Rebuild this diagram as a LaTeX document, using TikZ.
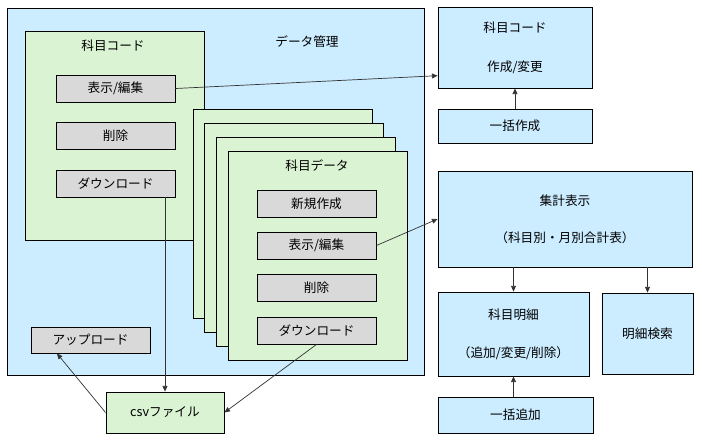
\documentclass[tikz,border=0pt]{standalone}
\usepackage{fontspec}
\setmainfont{Noto Sans CJK JP}
\usepackage{xcolor}
\usetikzlibrary{arrows.meta,calc}

\definecolor{paneblue}{HTML}{CCECFF}
\definecolor{panegreen}{HTML}{DAF3D2}
\definecolor{opgray}{HTML}{D9D9D9}

\begin{document}
\begin{tikzpicture}[
  x=0.025cm,
  y=-0.025cm,
  font=\fontsize{9}{11}\selectfont,
  line join=miter,
  blue panel/.style={draw=black,line width=0.6pt,fill=paneblue},
  green panel/.style={draw=black,line width=0.6pt,fill=panegreen},
  panel title/.style={inner sep=0pt},
  op box/.style={
    draw=black,line width=0.6pt,fill=opgray,inner sep=0pt,
    minimum width=2.975cm,minimum height=0.675cm
  },
  blue box/.style={
    draw=black,line width=0.6pt,fill=paneblue,inner sep=0pt,align=center
  },
  flow arrow/.style={
    draw=black!80,
    line width=0.5pt,
    -{Triangle[length=4pt,width=3.5pt]}
  }
]
  \path[use as bounding box,fill=white] (0,0) rectangle (702,443);

  % Data management area with the subject code panel.
  \draw[blue panel] (7,8) rectangle (424,375);
  \node[panel title] (mgmtTitle) at (307,42) {データ管理};
  \draw[green panel] (25,31) rectangle (204,240);
  \node[panel title] (codeTitle) at (113,46) {科目コード};
  \node[op box] (codeEdit) at (115.5,88.5) {表示/編集};
  \node[op box] (codeDel) at (115.5,135.5) {削除};
  \node[op box] (codeDown) at (115.5,183.5) {ダウンロード};

  % Stacked subject data sheets, the front one holds the operations.
  \foreach \sI in {0,1,2,3}{
    \draw[green panel] ({193+11.7*\sI},{109+14.3*\sI})
      rectangle ++(179,209);
  }
  \node[panel title] (dataTitle) at (317,166) {科目データ};
  \node[op box] (dataNew) at (316.5,203.5) {新規作成};
  \node[op box] (dataEdit) at (316.5,245.5) {表示/編集};
  \node[op box] (dataDel) at (316.5,287.5) {削除};
  \node[op box] (dataDown) at (316.5,330.5) {ダウンロード};

  \node[op box,minimum height=0.65cm] (upload) at (90.5,340) {アップロード};
  \node[green panel,inner sep=0pt,minimum width=2.95cm,minimum height=1.025cm]
    (csv) at (165,412.5) {csvファイル};

  % Right column.
  \node[blue box,minimum width=3.85cm,minimum height=2.025cm]
    (codeMake) at (515,47.5) {科目コード\\[17pt]作成/変更};
  \node[blue box,minimum width=3.85cm,minimum height=0.85cm]
    (bulkMake) at (515,126) {一括作成};
  \node[blue box,minimum width=6.35cm,minimum height=2.4cm]
    (summary) at (565,219) {集計表示\\[15pt]（科目別・月別合計表）};
  \node[blue box,minimum width=3.775cm,minimum height=2.1cm]
    (detail) at (513.5,334) {科目明細\\[16pt]（追加/変更/削除）};
  \node[blue box,minimum width=2.275cm,minimum height=2.025cm]
    (search) at (647.5,333.5) {明細検索};
  \node[blue box,minimum width=3.875cm,minimum height=0.9cm]
    (bulkAdd) at (515.5,415) {一括追加};

  \draw[flow arrow] (codeEdit.east) -- (codeMake.200);
  \draw[flow arrow] (bulkMake.north) -- (codeMake.south);
  \draw[flow arrow] (dataEdit.east) -- (summary.west);
  \draw[flow arrow] (summary.south -| detail.north) -- (detail.north);
  \draw[flow arrow] (summary.south -| search.north) -- (search.north);
  \draw[flow arrow] (detail.south |- bulkAdd.north) -- (detail.south);
  \draw[flow arrow] (codeDown.south -| csv.north) -- (csv.north);
  \draw[flow arrow] (dataDown.south) -- (csv.east);
  \draw[flow arrow] (csv.west)
    -- ($(upload.south west)!0.22!(upload.south east)$);
\end{tikzpicture}
\end{document}
